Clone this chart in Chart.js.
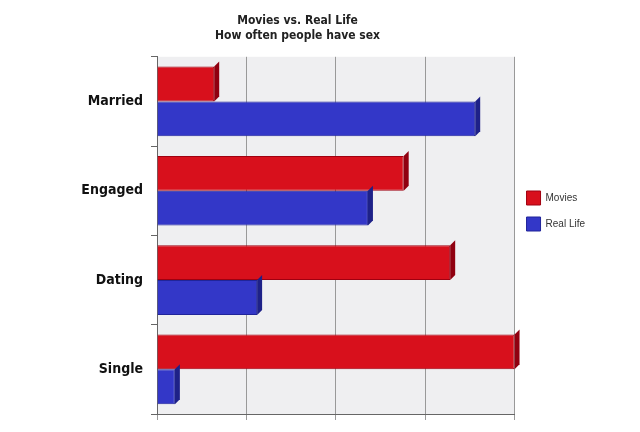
<!DOCTYPE html><html><head><script src="https://cdn.jsdelivr.net/npm/chart.js@4"></script>
<style>body{margin:0;background:#fff}#w{width:640px;height:432px}</style></head><body><div id="w"><canvas id="c"></canvas></div>
<script>
const categories=["Married","Engaged","Dating","Single"];
const movies=[16,69,82,100];
const realLife=[89,59,28,5];
const seriesNames=["Movies","Real Life"];
const bgPlugin={id:'bg',beforeDraw(ch){const a=ch.chartArea,x=ch.ctx;x.save();x.fillStyle='#efeff1';x.fillRect(a.left,a.top,a.right-a.left,a.bottom-a.top);x.restore();}};
const shade={id:'shade',afterDatasetsDraw(ch){const x=ch.ctx;ch.data.datasets.forEach((d,i)=>{ch.getDatasetMeta(i).data.forEach(b=>{const h=b.height,t=b.y-h/2;x.save();x.fillStyle=i?'#1e2188':'#900010';x.beginPath();x.moveTo(b.x,t);x.lineTo(b.x+5,t-5);x.lineTo(b.x+5,t+h-5);x.lineTo(b.x,t+h);x.fill();x.restore();});});}};
new Chart(document.getElementById('c'),{type:'bar',data:{labels:categories,datasets:[
{label:seriesNames[0],data:movies,backgroundColor:'#d8101c',borderColor:'#a00010',borderWidth:1},
{label:seriesNames[1],data:realLife,backgroundColor:'#3337c8',borderColor:'#20249a',borderWidth:1}]},
options:{indexAxis:'y',responsive:true,maintainAspectRatio:false,animation:false,
layout:{padding:{left:0,right:45,top:2,bottom:12}},
datasets:{bar:{categoryPercentage:0.78,barPercentage:1}},
plugins:{title:{display:true,text:['Movies vs. Real Life','How often people have sex'],font:{family:'DejaVu Sans Condensed',weight:'bold',size:12},color:'#222',padding:{top:12,bottom:14},lineHeight:1.3},
legend:{position:'right',labels:{boxWidth:14,boxHeight:14,padding:12,font:{family:'Liberation Sans',size:10},color:'#333'}},tooltip:{enabled:false}},
scales:{x:{min:0,max:100,ticks:{stepSize:25,display:false},grid:{color:'#999',tickLength:6},border:{color:'#666'}},
y:{afterFit(s){s.width=157;},ticks:{font:{family:'DejaVu Sans Condensed',weight:'bold',size:14},color:'#111',padding:8},grid:{offset:true,color:'transparent',tickLength:6,tickColor:'#666'},border:{color:'#666'}}}}
,plugins:[bgPlugin,shade]});
</script></body></html>
